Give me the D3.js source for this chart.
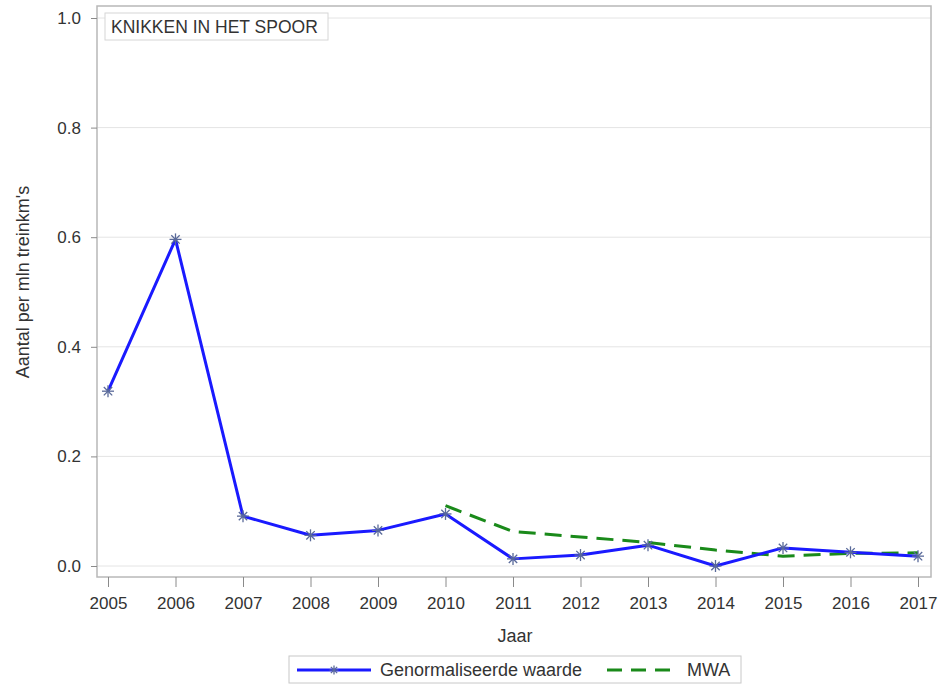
<!DOCTYPE html>
<html><head><meta charset="utf-8">
<script src="https://cdn.jsdelivr.net/npm/d3@7"></script>
<style>body{margin:0;background:#fff}svg{display:block;font-family:"Liberation Sans",Arial,sans-serif}</style>
</head><body><svg id="c" width="949" height="684"></svg>
<script>
const years = [2005,2006,2007,2008,2009,2010,2011,2012,2013,2014,2015,2016,2017];
const genormaliseerd = [0.319,0.596,0.091,0.056,0.065,0.095,0.013,0.020,0.038,0.000,0.033,0.025,0.018];
const mwaYears = [2010,2011,2012,2013,2014,2015,2016,2017];
const mwa = [0.110,0.063,0.053,0.043,0.029,0.018,0.023,0.024];
const yTicks = [0.0,0.2,0.4,0.6,0.8,1.0];
const titleText = "KNIKKEN IN HET SPOOR";
const xLabel = "Jaar";
const yLabel = "Aantal per mln treinkm's";
const legendLabels = ["Genormaliseerde waarde","MWA"];

const svg = d3.select("#c");
const frame = {l:97, r:931, t:6, b:577};
const x = d3.scaleLinear().domain([2005,2017]).range([108,918]);
const y = d3.scaleLinear().domain([0,1]).range([566,18]);

// gridlines
svg.append("g").selectAll("line").data(yTicks).join("line")
  .attr("x1",frame.l).attr("x2",frame.r)
  .attr("y1",d=>y(d)).attr("y2",d=>y(d))
  .attr("stroke","#e4e4e4").attr("stroke-width",1);

// frame
svg.append("rect").attr("x",frame.l).attr("y",frame.t)
  .attr("width",frame.r-frame.l).attr("height",frame.b-frame.t)
  .attr("fill","none").attr("stroke","#b8b8b8").attr("stroke-width",1.5);

// axes
const yAxis = d3.axisLeft(y).tickValues(yTicks).tickFormat(d3.format(".1f")).tickSize(6).tickPadding(10);
const gy = svg.append("g").attr("transform",`translate(${frame.l},0)`).call(yAxis);
gy.select(".domain").remove();
gy.selectAll("line").attr("stroke","#8a8a8a");
gy.selectAll("text").attr("font-size",17).attr("fill","#333");

const xAxis = d3.axisBottom(x).tickValues(years).tickFormat(d3.format("d")).tickSize(10).tickPadding(10);
const gx = svg.append("g").attr("transform",`translate(0,${frame.b})`).call(xAxis);
gx.select(".domain").remove();
gx.selectAll("line").attr("stroke","#8a8a8a");
gx.selectAll("text").attr("font-size",17).attr("fill","#333");

// axis labels
svg.append("text").attr("x",515).attr("y",642).attr("text-anchor","middle")
  .attr("font-size",18).attr("fill","#333").text(xLabel);
svg.append("text").attr("transform",`translate(29,282) rotate(-90)`)
  .attr("text-anchor","middle").attr("font-size",18).attr("fill","#333").text(yLabel);

// inset title
const tg = svg.append("g");
tg.append("rect").attr("x",105).attr("y",13).attr("width",223).attr("height",27)
  .attr("fill","#fff").attr("stroke","#d6d6d6");
tg.append("text").attr("x",111).attr("y",33).attr("font-size",17.5).attr("fill","#333")
  .text(titleText);

// lines
const line = d3.line().x(d=>x(d[0])).y(d=>y(d[1]));
svg.append("path").datum(mwaYears.map((yr,i)=>[yr,mwa[i]]))
  .attr("d",line).attr("fill","none").attr("stroke","#1a8a1a").attr("stroke-width",3)
  .attr("stroke-dasharray","17,9");
const gData = years.map((yr,i)=>[yr,genormaliseerd[i]]);
svg.append("path").datum(gData).attr("d",line).attr("fill","none")
  .attr("stroke","#1a1aff").attr("stroke-width",3).attr("stroke-linejoin","round");

function star(g,cx,cy,r){
  const s = g.append("g").attr("transform",`translate(${cx},${cy})`)
    .attr("stroke","#5a6a9a").attr("stroke-width",1.3);
  [[0,-r,0,r],[-r,0,r,0],[-r*0.7,-r*0.7,r*0.7,r*0.7],[-r*0.7,r*0.7,r*0.7,-r*0.7]].forEach(c=>{
    s.append("line").attr("x1",c[0]).attr("y1",c[1]).attr("x2",c[2]).attr("y2",c[3]);
  });
}
const mg = svg.append("g");
gData.forEach(d=>star(mg,x(d[0]),y(d[1]),6));

// legend
const lg = svg.append("g");
lg.append("rect").attr("x",289).attr("y",656).attr("width",452).attr("height",27)
  .attr("fill","#fff").attr("stroke","#c8c8c8");
lg.append("line").attr("x1",297).attr("x2",371).attr("y1",670).attr("y2",670)
  .attr("stroke","#1a1aff").attr("stroke-width",3);
star(lg,334,670,4.5);
lg.append("text").attr("x",380).attr("y",676).attr("font-size",18).attr("fill","#333").text(legendLabels[0]);
lg.append("line").attr("x1",607).attr("x2",670).attr("y1",670).attr("y2",670)
  .attr("stroke","#1a8a1a").attr("stroke-width",3).attr("stroke-dasharray","15,9");
lg.append("text").attr("x",687).attr("y",676).attr("font-size",18).attr("fill","#333").text(legendLabels[1]);
</script></body></html>
